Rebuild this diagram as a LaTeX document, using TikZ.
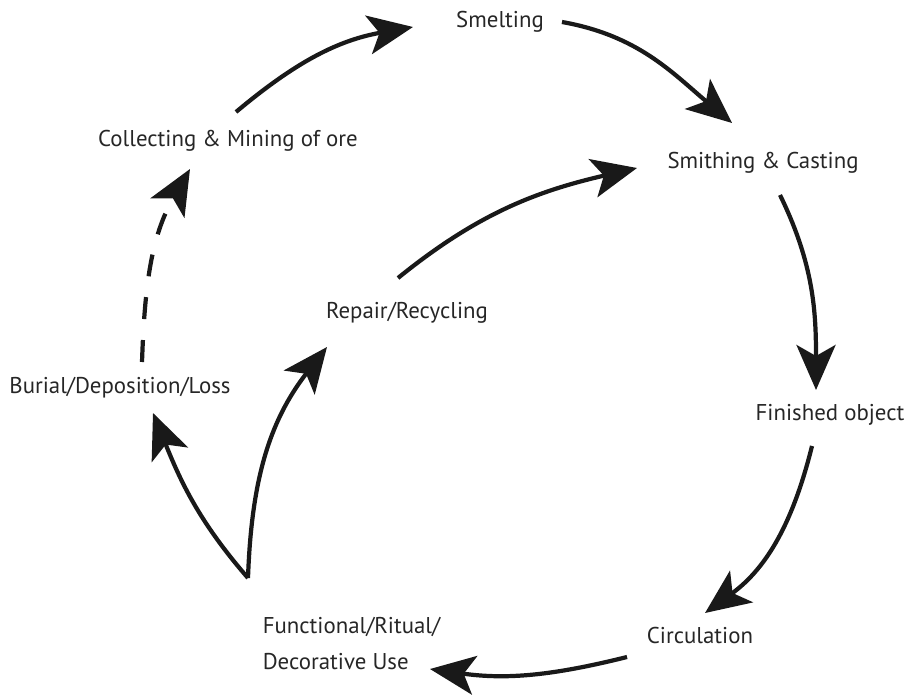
\documentclass[tikz,border=0pt]{standalone}
\usepackage{fontspec}
\setmainfont{PT Sans}
\usetikzlibrary{
	arrows.meta,
	calc
}

\begin{document}
\begin{tikzpicture}[thick, font=\fontsize{13}{20}\selectfont,
		every node/.style={text=black!85},
		cyc/.style={-{Stealth[length=9mm, width=7.8mm, inset=2.2mm]}, line width=2.4pt, black!90}]

		\useasboundingbox (0, 0) rectangle (18.14, 13.88);

		\node (Sm) at (10.00, 13.44) {Smelting};
		\node (Sc) at (15.26, 10.62) {Smithing \& Casting};
		\node (Fo) at (16.60, 5.58) {Finished object};
		\node (Ci) at (14.00, 1.18) {Circulation};
		\node [align=left] (Fu) at (7.03, 1.01) {Functional/Ritual/\\Decorative Use};
		\node (Bu) at (2.40, 6.12) {Burial/Deposition/Loss};
		\node (Co) at (4.56, 11.06) {Collecting \& Mining of ore};
		\node (Re) at (8.14, 7.62) {Repair/Recycling};

		% outer cycle
		\draw[cyc] ($(Co)+(.16,.58)$) to[out=40, in=190] ($(Sm)+(-1.74,-.10)$);
		\draw[cyc] ($(Sm)+(1.24,0)$) to[out=-10, in=140] ($(Sc)+(-.62,.80)$);
		\draw[cyc] ($(Sc)+(.34,-.64)$) to[out=-64, in=90] ($(Fo)+(-.28,.50)$);
		\draw[cyc] ($(Fo)+(-.36,-.62)$) to[out=-104, in=36] ($(Ci)+(.10,.44)$);
		\draw[cyc] ($(Ci)+(-1.46,-.44)$) to[out=194, in=-8] ($(Fu)+(1.57,-.51)$);

		% use splits
		\coordinate (Fut) at ($(Fu)+(-2.07,1.31)$);
		\draw[cyc] (Fut) to[out=131, in=-68] ($(Bu)+(.66,-.50)$);
		\draw[cyc] (Fut) to[out=88, in=232] ($(Re)+(-1.60,-.68)$);
		\draw[cyc] ($(Re)+(-.18,.70)$) to[out=39, in=193] ($(Sc)+(-2.52,-.10)$);

		\draw[cyc, dash pattern=on .44cm off .42cm] ($(Bu)+(.44,.52)$) to[out=88, in=240] ($(Co)+(-.76,-.56)$);

	\end{tikzpicture}
\end{document}
